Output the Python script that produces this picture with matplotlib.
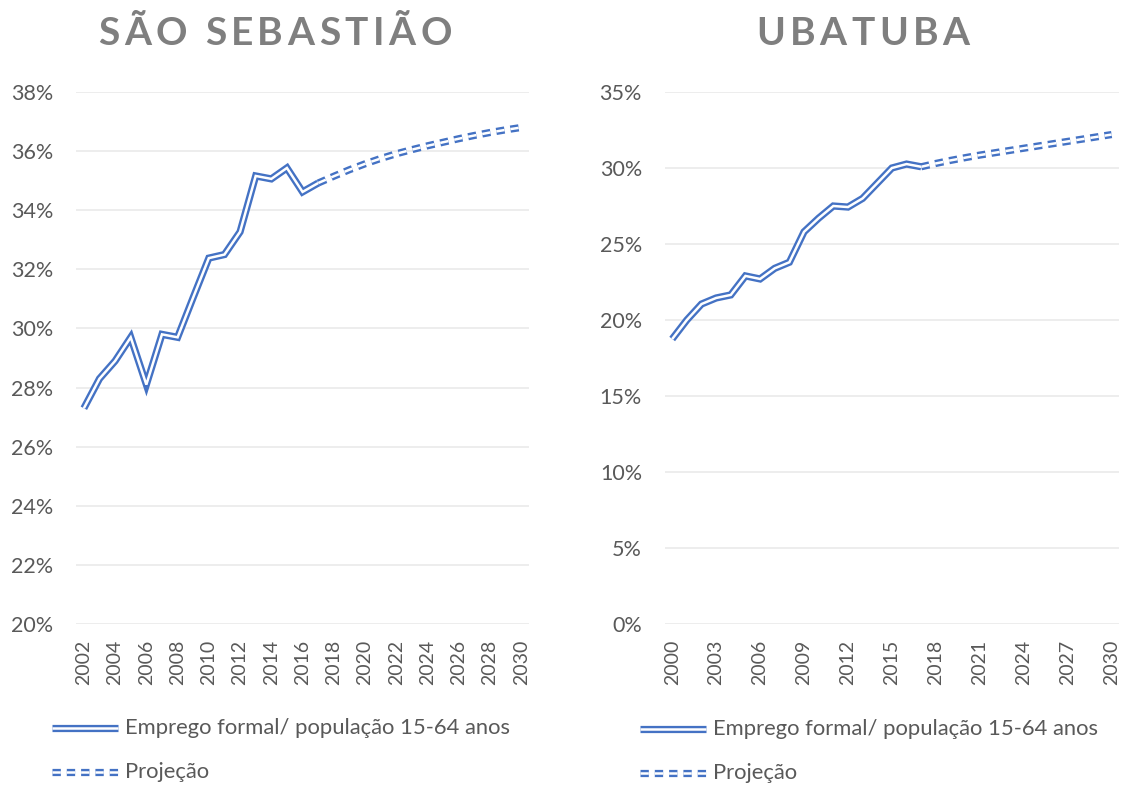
import matplotlib
matplotlib.use("Agg")
import matplotlib.pyplot as plt
from matplotlib.ticker import FuncFormatter

plt.rcParams['font.family'] = ['Lato', 'DejaVu Sans']
plt.rcParams['lines.scale_dashes'] = False

AZUL = '#4472C4'
CINZA = '#595959'
CINZA_TIT = '#7f7f7f'

# São Sebastião: emprego formal / população 15-64 anos (%)
anos_ss = list(range(2002, 2018))
emprego_ss = [27.3, 28.3, 28.9, 29.7, 28.1, 29.8, 29.7, 31.05, 32.38, 32.5,
              33.27, 35.16, 35.06, 35.43, 34.62, 34.92]
anos_ss_proj = list(range(2017, 2031))
proj_ss = [34.92, 35.15, 35.37, 35.57, 35.75, 35.91, 36.05, 36.18, 36.3,
           36.42, 36.53, 36.63, 36.72, 36.8]
eixo_ss = list(range(2002, 2031))

# Ubatuba
anos_ub = list(range(2000, 2018))
emprego_ub = [18.75, 20.0, 21.05, 21.45, 21.65, 22.9, 22.7, 23.4, 23.8, 25.8,
              26.7, 27.5, 27.43, 28.0, 29.0, 30.0, 30.26, 30.08]
anos_ub_proj = list(range(2017, 2031))
proj_ub = [30.08, 30.3, 30.5, 30.68, 30.85, 31.0, 31.15, 31.3, 31.45, 31.6,
           31.75, 31.9, 32.05, 32.2]
eixo_ub = list(range(2000, 2031))

LW_EXT = 5.2
LW_INT = 1.8
TRACO = (6.0, 4.3)


def linha_dupla(ax, x, y, tracejada=False, transform=None):
    kw = {}
    if transform is not None:
        kw['transform'] = transform
        kw['clip_on'] = False
    ls = (0, TRACO) if tracejada else '-'
    for cor, lw in ((AZUL, LW_EXT), ('white', LW_INT)):
        ax.plot(x, y, color=cor, lw=lw, ls=ls, solid_joinstyle='miter',
                solid_capstyle='butt', dash_capstyle='butt', **kw)


def titulo_espacado(fig, txt, xc, y, size, espaco):
    # texto em negrito com espaçamento entre letras
    r = fig.canvas.get_renderer()
    larguras = []
    for ch in txt:
        if ch == ' ':
            larguras.append(size * fig.dpi / 72 * 0.22)
            continue
        t = fig.text(0, 0, ch, fontsize=size, fontweight='bold')
        larguras.append(t.get_window_extent(r).width)
        t.remove()
    total = sum(larguras) + espaco * (len(txt) - 1)
    W = fig.get_figwidth() * fig.dpi
    x = xc * W - total / 2
    for ch, w in zip(txt, larguras):
        if ch != ' ':
            fig.text(x / W, y, ch, fontsize=size, fontweight='bold',
                     color=CINZA_TIT, ha='left', va='center')
        x += w + espaco


def painel(ax, eixo, anos, vals, anos_p, vals_p, ylim, passo, rotulo_passo):
    idx = {a: i for i, a in enumerate(eixo)}
    linha_dupla(ax, [idx[a] for a in anos_p], vals_p, tracejada=True)
    linha_dupla(ax, [idx[a] for a in anos], vals)
    ax.set_xlim(-0.5, len(eixo) - 0.5)
    ax.set_ylim(*ylim)
    n = int(round((ylim[1] - ylim[0]) / passo))
    ax.set_yticks([ylim[0] + passo * k for k in range(n + 1)])
    ax.yaxis.set_major_formatter(FuncFormatter(lambda v, p: f'{v:.0f}%'))
    pos = list(range(0, len(eixo), rotulo_passo))
    ax.set_xticks(pos)
    ax.set_xticklabels([str(eixo[i]) for i in pos], rotation=90)
    ax.grid(axis='y', color='#ececec', lw=1.3)
    ax.set_axisbelow(True)
    for s in ax.spines.values():
        s.set_visible(False)
    ax.tick_params(length=0, colors=CINZA)
    ax.tick_params(axis='y', pad=16.5, labelsize=15.5)
    ax.tick_params(axis='x', pad=11.5, labelsize=14)


def legenda(fig, ax, x0, x1, xt, y1, y2):
    linha_dupla(ax, [x0, x1], [y1, y1], transform=fig.transFigure)
    fig.text(xt, y1, 'Emprego formal/ população 15-64 anos', fontsize=15.8,
             color=CINZA, va='center')
    linha_dupla(ax, [x0, x1], [y2, y2], tracejada=True, transform=fig.transFigure)
    fig.text(xt, y2, 'Projeção', fontsize=15.8, color=CINZA, va='center')


fig = plt.figure(figsize=(11.25, 7.87), dpi=100)
ax1 = fig.add_axes([0.0676, 0.2071, 0.4027, 0.676])
ax2 = fig.add_axes([0.591, 0.2071, 0.4036, 0.676])

painel(ax1, eixo_ss, anos_ss, emprego_ss, anos_ss_proj, proj_ss, (20, 38), 2, 2)
painel(ax2, eixo_ub, anos_ub, emprego_ub, anos_ub_proj, proj_ub, (0, 35), 5, 3)

titulo_espacado(fig, 'SÃO SEBASTIÃO', 0.2444, 0.958, 28, 4.5)
titulo_espacado(fig, 'UBATUBA', 0.767, 0.958, 28, 4.5)

legenda(fig, ax1, 52 / 1125, 118 / 1125, 125 / 1125, 1 - 728 / 787, 1 - 772 / 787)
legenda(fig, ax2, 640 / 1125, 706 / 1125, 713 / 1125, 1 - 729 / 787, 1 - 773 / 787)

fig.savefig('out.png', dpi=100, facecolor='white')
